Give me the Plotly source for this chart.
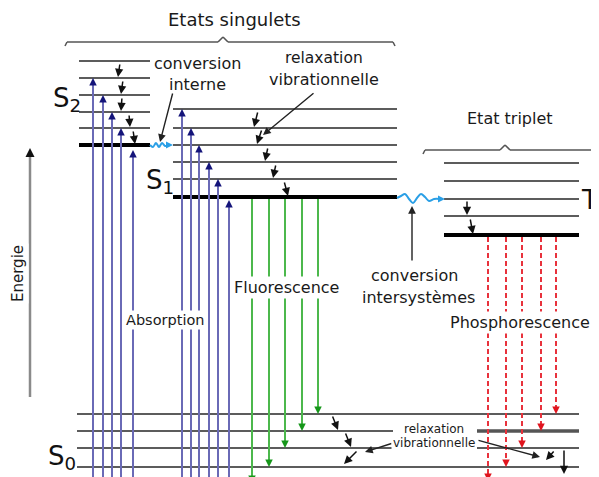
import plotly.graph_objects as go

# vibrational levels (picture y, 0 at top) and horizontal span of each manifold
s2_levels = [61, 78, 95, 112, 128]
s2_ground = 145
s2_span = (79, 150)
s1_levels = [109, 128, 145, 162, 179]
s1_ground = 197
s1_span = (173, 397)
t1_levels = [163, 181, 199, 216]
t1_ground = 235
t1_span = (444, 579)
s0_levels = [414, 431, 448, 467]
s0_span = (77, 579)
s0_gap = (393, 477)  # lines 2 and 3 are cut by the small label

# radiative transitions
abs_s2_x = [93, 103, 112, 121, 133]
abs_s2_top = [78, 95, 112, 128, 150]
abs_s1_x = [182, 191, 199, 209, 218, 229]
abs_s1_top = [109, 128, 145, 162, 179, 200]
fluo_x = [252, 269, 285, 302, 318]
fluo_end = [483, 467, 448, 431, 414]
phos_x = [488, 506, 522, 541, 556]
phos_end = [481, 467, 448, 431, 414]

# small black relaxation arrows: (x_tail, y_tail, x_head, y_head)
relax_arrows = [
    (120, 63, 118, 77), (123, 80, 121, 94), (122, 97, 121, 111),
    (129, 114, 130, 127), (133, 130, 135, 144),
    (258, 111, 254, 127), (262, 129, 257, 144), (268, 147, 265, 161),
    (276, 164, 273, 178), (284, 181, 288, 196),
    (467, 200, 467, 215), (470, 218, 473, 234),
    (332, 415, 338, 430), (345, 432, 351, 447), (358, 450, 344, 464),
    (555, 450, 546, 460), (564, 449, 564, 474),
]
# pointer arrows from labels
pointers = [
    (173, 92, 160, 142), (315, 92, 263, 135), (412, 262, 412, 206),
    (393, 443, 365, 452), (477, 440, 540, 457),
]

# wavy crossings
ic_x = [150, 153, 156, 159, 162, 165, 168]
ic_y = [145, 147, 143, 147, 143, 146, 145]
isc_x = [397, 401, 405, 409, 413, 417, 421, 425, 429, 434, 440]
isc_y = [198, 196, 194, 199, 203, 198, 194, 197, 201, 199, 199]

labels = [
    ("Etats singulets", 234, 19, 18, False),
    ("Etat triplet", 510, 118, 16, False),
    ("conversion", 197, 63, 16, False), ("interne", 197, 84, 16, False),
    ("relaxation", 324, 58, 15.5, False), ("vibrationnelle", 324, 79, 16, False),
    ("conversion", 414, 275, 16, True), ("intersystèmes", 418, 297, 16, True),
    ("Absorption", 165, 320, 14.5, True),
    ("Fluorescence", 286, 287, 16, True),
    ("Phosphorescence", 520, 322, 16, True),
    ("relaxation", 434, 429, 12, True), ("vibrationnelle", 434, 443, 12, True),
]
state_labels = [
    ("S<sub>2</sub>", 67, 99), ("S<sub>1</sub>", 160, 181),
    ("S<sub>0</sub>", 62, 457),
]

# the page puts the plot 8px in from the top-left corner
PAGE_OFFSET = 8
W, H = 599, 477

fig = go.Figure()


def add_segments(segs, color, width, dash=None):
    xs, ys = [], []
    for x0, y0, x1, y1 in segs:
        xs += [x0, x1, None]
        ys += [y0, y1, None]
    fig.add_trace(go.Scatter(x=xs, y=ys, mode="lines", hoverinfo="skip",
                             line=dict(color=color, width=width, dash=dash)))


def add_heads(xs, ys, symbol, color, size=8):
    fig.add_trace(go.Scatter(x=xs, y=ys, mode="markers", hoverinfo="skip",
                             marker=dict(symbol=symbol, color=color, size=size,
                                         line_width=0)))


thin = [(s2_span[0], y, s2_span[1], y) for y in s2_levels]
thin += [(s1_span[0], y, s1_span[1], y) for y in s1_levels]
thin += [(t1_span[0], y, t1_span[1], y) for y in t1_levels]
for i, y in enumerate(s0_levels):
    if i in (1, 2):
        thin += [(s0_span[0], y, s0_gap[0], y), (s0_gap[1], y, s0_span[1], y)]
    else:
        thin.append((s0_span[0], y, s0_span[1], y))
add_segments(thin, "#5c5c5c", 2.2)
add_segments([(s0_gap[1], s0_levels[1], s0_span[1], s0_levels[1])], "#555", 3.5)
add_segments([(s2_span[0], s2_ground, s2_span[1], s2_ground),
              (s1_span[0], s1_ground, s1_span[1], s1_ground),
              (t1_span[0], t1_ground, t1_span[1], t1_ground)], "#000", 4)

# braces
add_segments([(65, 46, 67, 42), (67, 42, 218, 42), (218, 42, 223, 37), (223, 37, 228, 42),
              (228, 42, 393, 42), (393, 42, 395, 46),
              (423, 154, 425, 150), (425, 150, 500, 150), (500, 150, 505, 145),
              (505, 145, 510, 150), (510, 150, 592, 150), (592, 150, 594, 154)],
             "#555", 1.6)

# energy axis
add_segments([(30, 397, 30, 155)], "#8a8a8a", 2.5)
add_heads([30], [148], "arrow-up", "#111", 9)

# absorption
ax_all = abs_s2_x + abs_s1_x
top_all = abs_s2_top + abs_s1_top
add_segments([(x, 495, x, t + 5) for x, t in zip(ax_all, top_all)], "#6a6ab6", 2)
add_heads(ax_all, top_all, "arrow-up", "#14147a", 7.5)

# fluorescence
add_segments([(x, s1_ground + 2, x, e - 5) for x, e in zip(fluo_x, fluo_end)], "#4cb84c", 2)
add_heads(fluo_x, fluo_end, "arrow-down", "#16961a", 7.5)

# phosphorescence
add_segments([(x, t1_ground + 2, x, e - 5) for x, e in zip(phos_x, phos_end)],
             "#e8323c", 2, dash="5px,3px")
add_heads(phos_x, phos_end, "arrow-down", "#e0141e", 7.5)

# wavy non-radiative crossings
for wx, wy in ((ic_x, ic_y), (isc_x, isc_y)):
    fig.add_trace(go.Scatter(x=wx, y=wy, mode="lines", hoverinfo="skip",
                             line=dict(color="#2a9fe6", width=2, shape="spline")))
add_heads([173, 445], [145, 199], "arrow-right", "#2a9fe6", 7)

annotations = []
for x0, y0, x1, y1 in relax_arrows:
    annotations.append(dict(x=x1, y=y1, ax=x0, ay=y0, xref="x", yref="y", axref="x", ayref="y",
                            text="", showarrow=True, arrowhead=2, arrowsize=1.1,
                            arrowwidth=1.5, arrowcolor="#111"))
for x0, y0, x1, y1 in pointers:
    annotations.append(dict(x=x1, y=y1, ax=x0, ay=y0, xref="x", yref="y", axref="x", ayref="y",
                            text="", showarrow=True, arrowhead=2, arrowsize=1.1,
                            arrowwidth=1.4, arrowcolor="#222"))
for txt, x, y, size, bg in labels:
    annotations.append(dict(x=x, y=y, xref="x", yref="y", text=txt, showarrow=False,
                            font=dict(size=size, color="#1a1a1a"),
                            bgcolor="white" if bg else None, borderpad=1))
for txt, x, y in state_labels:
    annotations.append(dict(x=x, y=y, xref="x", yref="y", text=txt, showarrow=False,
                            font=dict(size=26, color="#111")))
# T1 sits on the right edge, its index is mostly cut off
annotations.append(dict(x=599, y=200, xref="x", yref="y", text="T", showarrow=False,
                        xanchor="right", borderpad=0, font=dict(size=26, color="#111")))
annotations.append(dict(x=599, y=211, xref="x", yref="y", text="1", showarrow=False,
                        xanchor="right", borderpad=0, font=dict(size=11, color="#111")))
annotations.append(dict(x=18, y=274, xref="x", yref="y", text="Energie", textangle=-90,
                        showarrow=False, bgcolor="white",
                        font=dict(size=15, color="#1a1a1a")))

fig.update_layout(
    width=W - PAGE_OFFSET, height=H - PAGE_OFFSET,
    margin=dict(l=0, r=0, t=0, b=0),
    paper_bgcolor="white", plot_bgcolor="white",
    showlegend=False,
    font=dict(family="DejaVu Sans"),
    xaxis=dict(range=[PAGE_OFFSET, W], visible=False, fixedrange=True),
    yaxis=dict(range=[H, PAGE_OFFSET], visible=False, fixedrange=True),
    annotations=annotations,
)

fig.write_html("out.html")
